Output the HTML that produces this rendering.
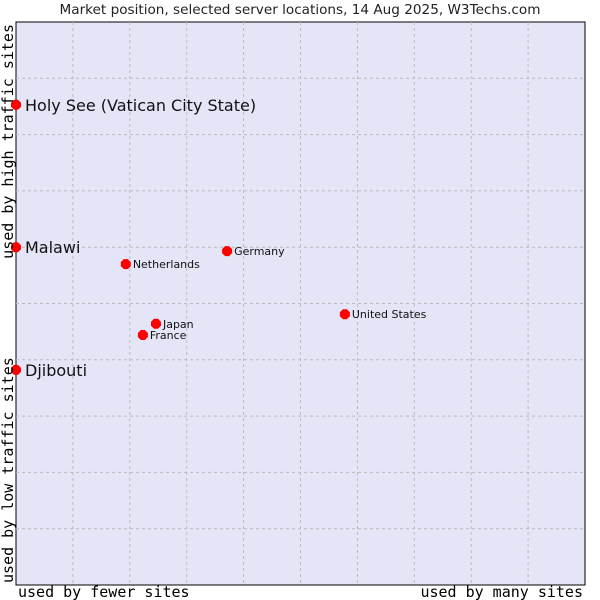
<!DOCTYPE html>
<html><head><meta charset="utf-8"><style>
body{margin:0;background:#fff;width:600px;height:600px;overflow:hidden}
svg{display:block}
</style></head><body>
<svg id="chart" width="600" height="600" xmlns="http://www.w3.org/2000/svg" font-family="DejaVu Sans, Liberation Sans, sans-serif">
<text x="300" y="14" text-anchor="middle" font-size="13.6" fill="#222">Market position, selected server locations, 14 Aug 2025, W3Techs.com</text>
<rect x="16" y="22" width="569" height="563" fill="#e4e6f8" stroke="#000" stroke-width="1"/>
<g id="grid"></g>
<g id="points"></g>
<text x="18" y="597" font-family="DejaVu Sans Mono, Liberation Mono, monospace" font-size="15" fill="#000">used by fewer sites</text>
<text x="583" y="597" text-anchor="end" font-family="DejaVu Sans Mono, Liberation Mono, monospace" font-size="15" fill="#000">used by many sites</text>
<text transform="translate(13,583) rotate(-90)" font-family="DejaVu Sans Mono, Liberation Mono, monospace" font-size="15" fill="#000">used by low traffic sites</text>
<text transform="translate(13,24) rotate(-90)" text-anchor="end" font-family="DejaVu Sans Mono, Liberation Mono, monospace" font-size="15" fill="#000">used by high traffic sites</text>
</svg>
<script>
const names = ["Holy See (Vatican City State)","Malawi","Djibouti","Netherlands","Germany","Japan","France","United States"];
const xVals = [0,0,0,19.3,37.1,24.6,22.3,57.8];
const yVals = [85.3,60,38.2,57,59.3,46.4,44.4,48.1];
const bigLabel = [true,true,true,false,false,false,false,false];
const L=16,T=22,W=569,H=563;
const sx=v=>L+v/100*W, sy=v=>T+H-v/100*H;
const NS="http://www.w3.org/2000/svg";
const grid=document.getElementById('grid'), pts=document.getElementById('points');
for(let i=1;i<10;i++){
  let l=document.createElementNS(NS,'line');
  
  
  l.setAttribute('x1',sx(i*10));l.setAttribute('x2',sx(i*10));l.setAttribute('y1',T);l.setAttribute('y2',T+H);
  l.setAttribute('stroke','#bbb');l.setAttribute('stroke-dasharray','3,3');grid.appendChild(l);
  let h=document.createElementNS(NS,'line');
  
  
  h.setAttribute('x1',L);h.setAttribute('x2',L+W);h.setAttribute('y1',sy(i*10));h.setAttribute('y2',sy(i*10));
  h.setAttribute('stroke','#bbb');h.setAttribute('stroke-dasharray','3,3');grid.appendChild(h);
}
names.forEach((n,i)=>{
  const x=sx(xVals[i]),y=sy(yVals[i]);
  const p=document.createElementNS(NS,'polygon');
  
  
  p.setAttribute('points',`${x-2},${y-5} ${x+2},${y-5} ${x+5},${y-2} ${x+5},${y+2} ${x+2},${y+5} ${x-2},${y+5} ${x-5},${y+2} ${x-5},${y-2}`);
  p.setAttribute('fill','#f00');pts.appendChild(p);
  const t=document.createElementNS(NS,'text');
  
  
  t.setAttribute('x',x+(bigLabel[i]?9:7));t.setAttribute('y',y+(bigLabel[i]?6:4));
  t.setAttribute('font-size',bigLabel[i]?'16':'11');t.setAttribute('fill','#111');
  t.textContent=n;pts.appendChild(t);
});
</script>
</body></html>
